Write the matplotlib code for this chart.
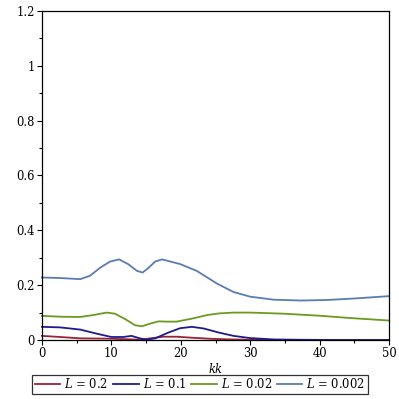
import numpy as np
import matplotlib
matplotlib.use("Agg")
import matplotlib.pyplot as plt
from matplotlib.ticker import MultipleLocator, FuncFormatter

# values
kk_red = [0, 2.6, 5.5, 9.3, 12.1, 14.1, 15.6, 17.5, 19.4, 21.8, 24.7, 27.5, 30, 35, 40, 50]
L_02 = [0.015, 0.011, 0.006, 0.005, 0.003, 0.001, 0.006, 0.012, 0.012, 0.008, 0.004,
        0.002, 0.001, 0.0, 0.0, 0.0]

kk_navy = [0, 2.6, 5.5, 7.9, 10.0, 11.7, 12.9, 14.1, 15.1, 16.3, 18.2, 19.9, 21.6, 23.3,
           25.5, 27.6, 30, 33.4, 37, 42, 50]
L_01 = [0.048, 0.046, 0.038, 0.023, 0.011, 0.011, 0.015, 0.006, 0.001, 0.006, 0.027, 0.043,
        0.048, 0.042, 0.027, 0.015, 0.007, 0.002, 0.001, 0.0, 0.0]

kk_green = [0, 2.6, 5.5, 7.4, 9.3, 10.5, 12.0, 13.4, 14.4, 15.6, 16.8, 18.0, 19.4, 21.8,
            23.8, 25.5, 27.6, 30.0, 34.8, 39.7, 44.5, 50]
L_002 = [0.088, 0.085, 0.084, 0.091, 0.1, 0.096, 0.076, 0.054, 0.05, 0.06, 0.068, 0.067,
         0.067, 0.079, 0.091, 0.097, 0.1, 0.1, 0.096, 0.089, 0.08, 0.071]

kk_blue = [0, 2.6, 5.5, 6.9, 8.4, 9.8, 11.1, 12.4, 13.7, 14.5, 15.3, 16.3, 17.3, 19.9,
           22.3, 25.2, 27.6, 30.0, 33.4, 37.3, 41.1, 45.4, 50]
L_0002 = [0.228, 0.226, 0.222, 0.234, 0.264, 0.286, 0.294, 0.277, 0.252, 0.246, 0.262,
          0.286, 0.294, 0.277, 0.252, 0.206, 0.175, 0.158, 0.147, 0.144, 0.146, 0.152, 0.16]

series = [
    (kk_red, L_02, r"$L$ = 0.2", "#9b2336"),
    (kk_navy, L_01, r"$L$ = 0.1", "#1c1c8f"),
    (kk_green, L_002, r"$L$ = 0.02", "#6a9a1f"),
    (kk_blue, L_0002, r"$L$ = 0.002", "#5a7bb6"),
]

plt.rcParams["font.family"] = "DejaVu Serif"
plt.rcParams["mathtext.fontset"] = "dejavuserif"

fig = plt.figure(figsize=(3.99, 3.99), dpi=100)
ax = fig.add_axes([42 / 399, 1 - 340 / 399, 347 / 399, 329 / 399])

for x, y, lab, col in series:
    ax.plot(x, y, color=col, lw=1.3, label=lab, clip_on=False, solid_joinstyle="round")

ax.set_xlim(0, 50)
ax.set_ylim(0, 1.2)
ax.xaxis.set_major_locator(MultipleLocator(10))
ax.xaxis.set_minor_locator(MultipleLocator(5))
ax.yaxis.set_major_locator(MultipleLocator(0.2))
ax.yaxis.set_minor_locator(MultipleLocator(0.1))
ax.yaxis.set_major_formatter(FuncFormatter(lambda v, p: f"{v:g}"))
ax.tick_params(which="both", direction="out", labelsize=8.3, pad=1.5, width=0.8)
ax.tick_params(which="major", length=3.5)
ax.tick_params(which="minor", length=2)
for s in ax.spines.values():
    s.set_linewidth(0.9)

ax.set_xlabel("kk", fontsize=8.3, style="italic", labelpad=2)

leg = ax.legend(loc="upper center", bbox_to_anchor=(0.455, -0.105), ncol=4, fontsize=8.3,
                frameon=True, fancybox=False, edgecolor="black", handlelength=2.2,
                handletextpad=0.35, columnspacing=0.45, borderpad=0.25, borderaxespad=0)
leg.get_frame().set_linewidth(0.9)

fig.savefig("out.png", dpi=100)
